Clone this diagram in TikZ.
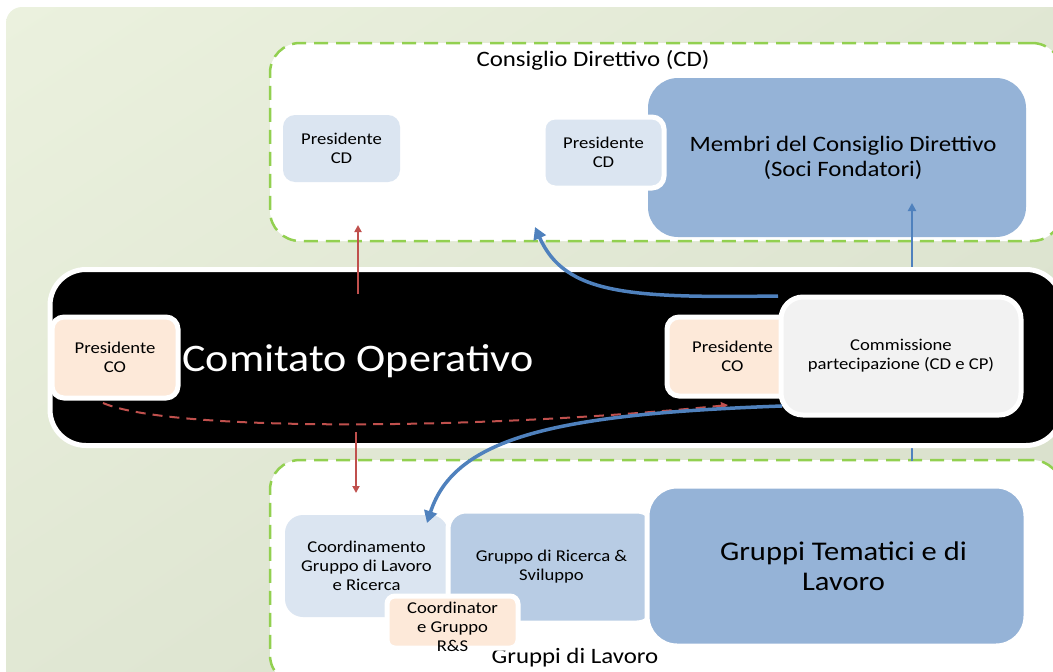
\documentclass[tikz,border=0pt]{standalone}
\usepackage{fontspec}
\setmainfont{Carlito}[FakeStretch=1.13]
\usetikzlibrary{arrows.meta,shadings}

\definecolor{bgLight}{HTML}{EBF1DE}
\definecolor{bgMid}{HTML}{E0E7D3}
\definecolor{bgDark}{HTML}{D5DCC8}
\definecolor{dashGreen}{HTML}{92D050}
\definecolor{paleBlue}{HTML}{DBE5F1}
\definecolor{midBlue}{HTML}{B8CCE4}
\definecolor{deepBlue}{HTML}{95B3D7}
\definecolor{peach}{HTML}{FDE9D9}
\definecolor{paleGrey}{HTML}{F2F2F2}
\definecolor{arrRed}{HTML}{C0504D}
\definecolor{arrBlue}{HTML}{4F81BD}

\begin{document}
\begin{tikzpicture}[x=1pt,y=-1pt,
	groupbox/.style={rectangle, draw=dashGreen, fill=white, line width=2.5pt,
		dash pattern=on 14pt off 8pt, rounded corners=30pt, inner sep=0pt},
	card/.style={rectangle, rounded corners=12pt, align=center, inner sep=0pt,
		text=black, font=\fontsize{16.5}{19}\selectfont},
	framed/.style={card, draw=white, line width=5pt},
	redarrow/.style={arrRed, line width=2pt, -{Triangle[length=7pt,width=7pt]}},
	bluearrow/.style={arrBlue, line width=3.5pt, -{Triangle[length=12pt,width=13pt]}},
	bluethin/.style={arrBlue, line width=2.5pt, -{Triangle[length=8pt,width=8pt]}}]
	
	\useasboundingbox (0,0) rectangle (1053,672);
	\clip (0,0) rectangle (1053,672);
	
	% background panel
	\shade[upper left=bgLight, upper right=bgMid, lower left=bgMid, lower right=bgDark,
		rounded corners=16pt] (6,7) rectangle (1100,720);
	
	% Consiglio Direttivo
	\node[groupbox, minimum width=792pt, minimum height=198pt] (cdgroup) at (666,142) {};
	\node[font=\fontsize{22}{26}\selectfont] (cdtitle) at (593,60) {Consiglio Direttivo (CD)};
	\node[card, fill=paleBlue, minimum width=117pt, minimum height=67pt] (presCDa) at (341.5,148.5) {Presidente\\CD};
	\node[card, fill=deepBlue, rounded corners=30pt, minimum width=378pt, minimum height=159pt,
		font=\fontsize{22}{25}\selectfont] (membri) at (837,157.5) {\hspace*{12pt}Membri del Consiglio Direttivo\\\hspace*{12pt}(Soci Fondatori)};
	\node[framed, fill=paleBlue, minimum width=121pt, minimum height=71pt] (presCDb) at (603.5,152.5) {Presidente\\CD};
	
	% Gruppi di Lavoro
	\node[groupbox, minimum width=792pt, minimum height=225pt] (gdlgroup) at (666,572.5) {};
	\node[font=\fontsize{22}{26}\selectfont] (gdltitle) at (575,658) {Gruppi di Lavoro};
	\node[card, fill=paleBlue, rounded corners=18pt, minimum width=163pt, minimum height=102pt] (coordGL) at (366.5,566) {Coordinamento\\Gruppo di Lavoro\\e Ricerca};
	\node[framed, fill=midBlue, rounded corners=18pt, minimum width=207pt, minimum height=112pt] (gruppoRS) at (551.5,567) {Gruppo di Ricerca \&\\Sviluppo};
	\node[framed, fill=deepBlue, rounded corners=30pt, minimum width=379pt, minimum height=160pt,
		font=\fontsize{27}{30}\selectfont] (tematici) at (836.5,566) {\hspace*{14pt}Gruppi Tematici e di\\\hspace*{14pt}Lavoro};
	\node[framed, fill=peach, rounded corners=8pt, minimum width=131pt, minimum height=52pt] (coordRS) at (452.5,622) {};
	\node[card] (coordRStext) at (452.5,627) {Coordinator\\e Gruppo\\R\&S};
	
	% link CD - gruppi, behind the CO panel
	\coordinate (tematiciTop) at (912,461);
	\coordinate (membriLow) at (912,203);
	\draw[bluethin] (tematiciTop) -- (membriLow);
	
	% Comitato Operativo
	\node[rectangle, draw=white, fill=black, line width=5pt, rounded corners=36pt,
		minimum width=1012pt, minimum height=176pt] (co) at (556,357.5) {};
	\node[text=white, font=\fontsize{39}{44}\selectfont] (cotitle) at (358,361) {Comitato Operativo};
	\node[framed, fill=peach, minimum width=126pt, minimum height=81pt] (presCOa) at (115,357.5) {Presidente\\CO};
	\node[framed, fill=peach, minimum width=131pt, minimum height=79pt] (presCOb) at (732.5,356.5) {Presidente\\CO};
	\node[framed, fill=paleGrey, rounded corners=22pt, minimum width=240pt, minimum height=118pt] (commissione) at (901,356) {Commissione\\partecipazione (CD e CP)};
	
	% connectors
	\coordinate (coUp) at (358,294);
	\coordinate (cdLow) at (358,225);
	\coordinate (coLow) at (356,432);
	\coordinate (gdlUp) at (356,493);
	\coordinate (presCOaLow) at (103,403);
	\coordinate (presCObLow) at (728,405);
	\draw[redarrow] (coUp) -- (cdLow);
	\draw[redarrow] (coLow) -- (gdlUp);
	\draw[redarrow, dash pattern=on 10pt off 7pt] (presCOaLow) .. controls (170,432) and (480,430) .. (presCObLow);
	
	\coordinate (commUp) at (778,296);
	\coordinate (cdIn) at (535,227);
	\coordinate (commLow) at (782,406);
	\coordinate (coordIn) at (427,523);
	\draw[bluearrow] (commUp) .. controls (630,298) and (565,295) .. (cdIn);
	\draw[bluearrow] (commLow) .. controls (560,414) and (455,436) .. (coordIn);
\end{tikzpicture}
\end{document}
